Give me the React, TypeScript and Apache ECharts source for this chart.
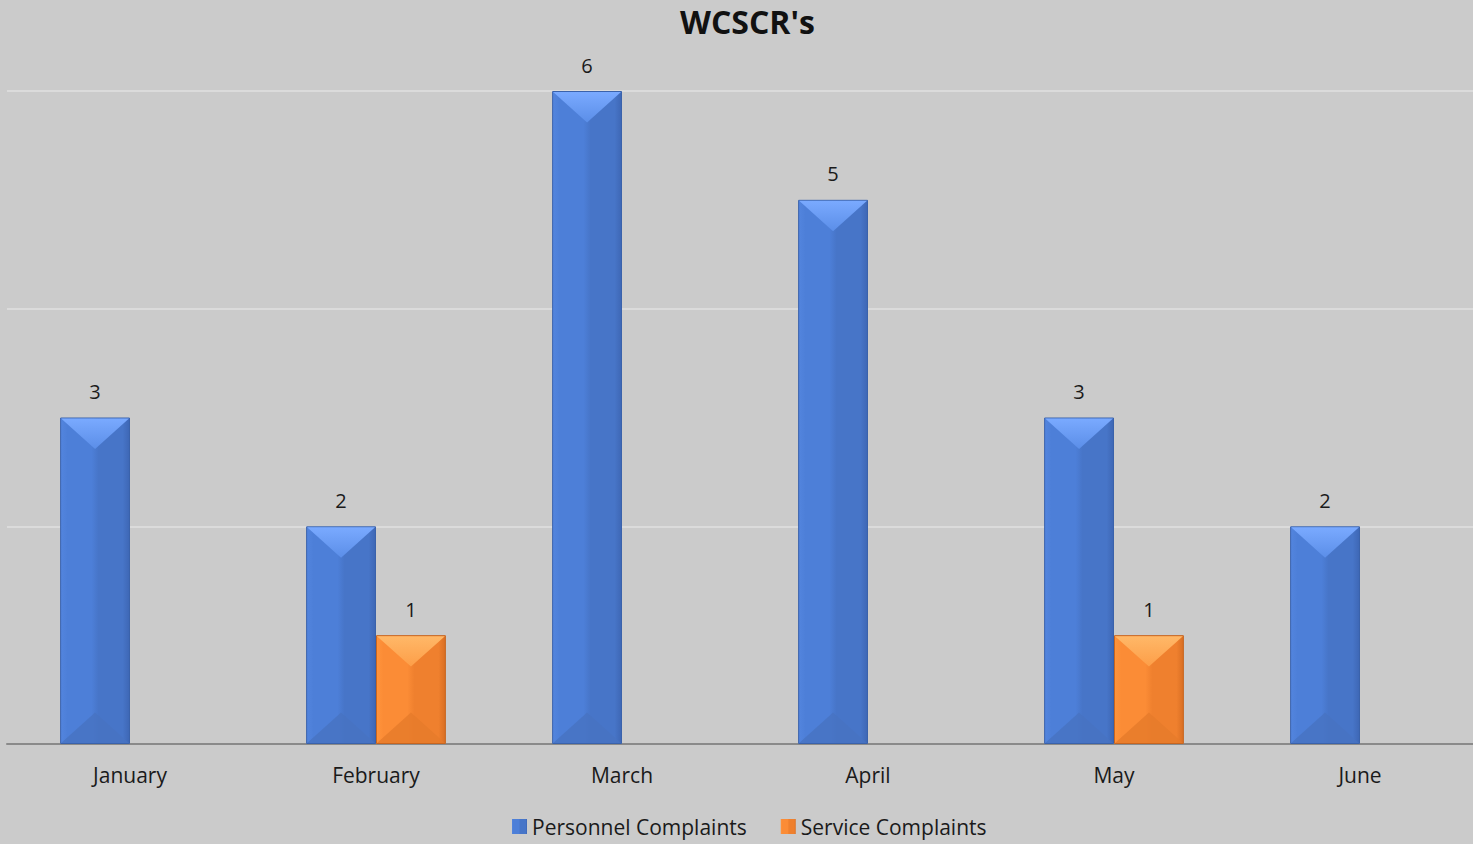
import React, { useEffect, useRef } from "react";
import * as echarts from "echarts";

const categories = ["January", "February", "March", "April", "May", "June"];
const personnel = [3, 2, 6, 5, 3, 2];
const service: (number | null)[] = [null, 1, null, null, 1, null];
const seriesNames = ["Personnel Complaints", "Service Complaints"];
const yTicks = { min: 0, max: 6, interval: 2 };

const BAR_FRAC = 0.284;
const FONT = "'Open Sans', Lato, sans-serif";

const palettes = [
  {
    left: "#5385de", mid: "#4d7fd8", mid2: "#4775c8", right: "#3e67b5", border: "#3a62ab",
    topA: "#7aaaff", topB: "#5b8ee8", bot: "#4773c2",
  },
  {
    left: "#ff943c", mid: "#fb8c36", mid2: "#ef802e", right: "#d96f24", border: "#c8651f",
    topA: "#ffb868", topB: "#fd9e48", bot: "#e67a2b",
  },
];

function barGradient(p: any) {
  return new echarts.graphic.LinearGradient(0, 0, 1, 0, [
    { offset: 0, color: p.left },
    { offset: 0.1, color: p.mid },
    { offset: 0.45, color: p.mid },
    { offset: 0.55, color: p.mid2 },
    { offset: 0.9, color: p.mid2 },
    { offset: 1, color: p.right },
  ]);
}

function bevelSeries(idx: number, values: (number | null)[]) {
  const p = palettes[idx];
  return {
    type: "custom",
    name: seriesNames[idx] + " bevel",
    silent: true,
    z: 5,
    data: values.map((v, i) => [i, v == null ? 0 : v]),
    renderItem: (params: any, api: any) => {
      const i = api.value(0);
      const v = api.value(1);
      if (!v) return null;
      const top = api.coord([i, v]);
      const base = api.coord([i, 0]);
      const cw = api.size([1, 0])[0];
      const w = cw * BAR_FRAC;
      const x0 = idx === 0 ? top[0] - w : top[0];
      const x1 = x0 + w;
      const xc = (x0 + x1) / 2;
      const h = base[1] - top[1];
      const d = Math.min(w / 2, h / 2) * 0.9;
      return {
        type: "group",
        children: [
          {
            type: "polygon",
            shape: { points: [[x0 + 1, top[1] + 1], [x1 - 1, top[1] + 1], [xc, top[1] + d]] },
            style: {
              fill: new echarts.graphic.LinearGradient(0, 0, 0, 1, [
                { offset: 0, color: p.topA },
                { offset: 1, color: p.topB },
              ]),
            },
          },
          {
            type: "polygon",
            shape: { points: [[x0 + 1, base[1] - 1], [x1 - 1, base[1] - 1], [xc, base[1] - d]] },
            style: { fill: p.bot, opacity: 0.8 },
          },
        ],
      };
    },
  };
}

export default function App() {
  const ref = useRef<HTMLDivElement>(null);
  useEffect(() => {
    document.body.style.margin = "0";
    document.body.style.overflow = "hidden";
    document.documentElement.style.overflow = "hidden";
    const chart = echarts.init(ref.current!, null, { renderer: "svg" });
    const labelCfg = {
      show: true,
      position: "top",
      distance: 16,
      fontSize: 20,
      color: "#1a1a1a",
      fontFamily: FONT,
    };
    chart.setOption({
      animation: false,
      backgroundColor: "#cbcbcb",
      title: {
        text: "WCSCR's",
        left: 675,
        top: 0,
        textStyle: { fontSize: 32, fontWeight: "bold", color: "#111", fontFamily: FONT },
      },
      legend: {
        data: seriesNames,
        bottom: 2,
        left: 507,
        icon: "rect",
        itemWidth: 15,
        itemHeight: 15,
        itemGap: 34,
        itemStyle: { borderWidth: 0 },
        textStyle: { fontSize: 21, color: "#1a1a1a", fontFamily: FONT },
      },
      grid: { left: 7, top: 91, right: 1, height: 653, containLabel: false },
      xAxis: {
        type: "category",
        data: categories,
        axisLine: { lineStyle: { color: "#8a8a8a", width: 2 } },
        axisTick: { show: false },
        axisLabel: { fontSize: 21, color: "#1a1a1a", margin: 20, fontFamily: FONT },
      },
      yAxis: {
        type: "value",
        min: yTicks.min,
        max: yTicks.max,
        interval: yTicks.interval,
        axisLabel: { show: false },
        axisLine: { show: false },
        axisTick: { show: false },
        splitLine: { lineStyle: { color: "#e0e0e0", width: 1.5 } },
      },
      series: [
        {
          type: "bar",
          name: seriesNames[0],
          data: personnel,
          barWidth: BAR_FRAC * 100 + "%",
          barGap: "0%",
          itemStyle: { color: barGradient(palettes[0]), borderColor: palettes[0].border, borderWidth: 1 },
          label: labelCfg,
        },
        {
          type: "bar",
          name: seriesNames[1],
          data: service,
          barWidth: BAR_FRAC * 100 + "%",
          barGap: "0%",
          itemStyle: { color: barGradient(palettes[1]), borderColor: palettes[1].border, borderWidth: 1 },
          label: labelCfg,
        },
        bevelSeries(0, personnel),
        bevelSeries(1, service),
      ],
    });
    return () => chart.dispose();
  }, []);
  return <div ref={ref} style={{ width: 1484, height: 844 }} />;
}
